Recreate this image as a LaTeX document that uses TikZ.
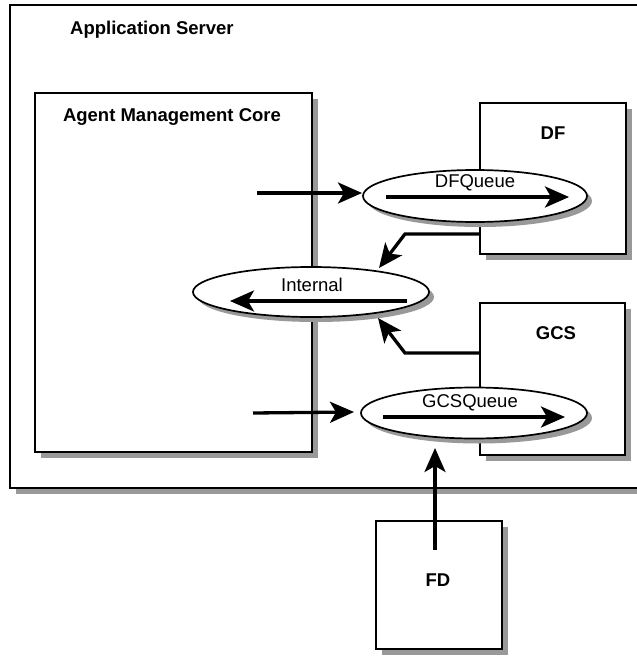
\documentclass[tikz,border=0pt]{standalone}
\usepackage{fontspec}
\setmainfont{Liberation Sans}
\usetikzlibrary{shapes.geometric,shadows,arrows.meta}
\definecolor{shadowgray}{RGB}{153,153,153}
\tikzset{
  shd/.style={drop shadow={shadow xshift=6pt,shadow yshift=-6pt,fill=shadowgray,opacity=1}},
  boxnode/.style={draw=black,line width=1.7pt,fill=white,rectangle,inner sep=0pt,shd},
  queuenode/.style={draw=black,line width=1.7pt,fill=white,ellipse,inner sep=0pt,
    drop shadow={shadow xshift=5pt,shadow yshift=-5pt,fill=shadowgray,opacity=1}},
  boldlabel/.style={font=\fontsize{18.5}{22}\selectfont\bfseries,inner sep=0pt},
  plainlabel/.style={font=\fontsize{18.5}{22}\selectfont,inner sep=0pt},
  flow/.style={line width=3.3pt,-{Stealth[length=24pt,width=21pt,inset=6pt]}},
}
\begin{document}
\begin{tikzpicture}[x=1pt,y=-1pt]
\useasboundingbox (0,0) rectangle (637,656);
\fill[white] (0,0) rectangle (637,656);
% boxes
\node[boxnode,minimum width=650pt,minimum height=483pt] (app) at (335,246.5) {};
\node[boldlabel,anchor=west] (applabel) at (70,30) {Application Server};
\node[boxnode,minimum width=277pt,minimum height=359pt] (amc) at (173.5,272.5) {};
\node[boldlabel] (amclabel) at (172,117) {Agent Management Core};
\node[boxnode,minimum width=146pt,minimum height=151pt] (df) at (553,178.5) {};
\node[boldlabel] (dflabel) at (553,133) {DF};
\node[boxnode,minimum width=145pt,minimum height=152pt] (gcs) at (552.5,379) {};
\node[boldlabel] (gcslabel) at (556,333) {GCS};
\node[boxnode,minimum width=126pt,minimum height=128pt] (fd) at (439,585) {};
\node[boldlabel] (fdlabel) at (438,580) {FD};
% queues
\node[queuenode,minimum width=224pt,minimum height=52pt] (dfq) at (475,196) {};
\node[plainlabel] (dfqlabel) at (475,183) {DFQueue};
\node[queuenode,minimum width=236pt,minimum height=50pt] (int) at (311,292) {};
\node[plainlabel] (intlabel) at (312,285) {Internal};
\node[queuenode,minimum width=226pt,minimum height=51pt] (gcsq) at (474,413) {};
\node[plainlabel] (gcsqlabel) at (470,403) {GCSQueue};
% coordinates
\coordinate (dfqa) at (386,197);
\coordinate (dfqb) at (569,197);
\coordinate (inta) at (407,301);
\coordinate (intb) at (230,301);
\coordinate (gcsqa) at (383,417);
\coordinate (gcsqb) at (565,417);
\coordinate (in1) at (257,193);
\coordinate (in1t) at (362,193);
\coordinate (in2) at (253,413);
\coordinate (in2t) at (354,412);
\coordinate (dfout) at (480,234);
\coordinate (dfbend) at (405,234);
\coordinate (dfint) at (379,268);
\coordinate (gcsout) at (480,353);
\coordinate (gcsbend) at (405,353);
\coordinate (gcsint) at (378,318);
\coordinate (fdout) at (435,550);
\coordinate (fdin) at (435,448);
% arrows
\draw[flow] (dfqa) -- (dfqb);
\draw[flow] (inta) -- (intb);
\draw[flow] (gcsqa) -- (gcsqb);
\draw[flow] (in1) -- (in1t);
\draw[flow] (in2) -- (in2t);
\draw[flow] (dfout) -- (dfbend) -- (dfint);
\draw[flow] (gcsout) -- (gcsbend) -- (gcsint);
\draw[flow] (fdout) -- (fdin);
\end{tikzpicture}
\end{document}
